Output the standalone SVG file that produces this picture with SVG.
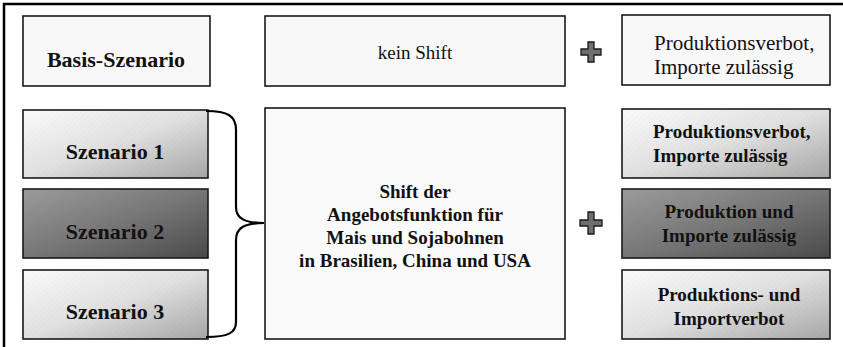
<svg xmlns="http://www.w3.org/2000/svg" width="843" height="347" viewBox="0 0 843 347">
<style>
.box{stroke:#1a1a1a;stroke-width:1.6}
.t{font-family:"Liberation Serif","Times New Roman",serif;fill:#111}
.b{font-weight:bold;font-size:19px}
.n{font-size:21px}
.big{font-weight:bold;font-size:22px}
.conn{fill:none;stroke:#000;stroke-width:2.2}
.plus{fill:#6e6e6e;stroke:#1a1a1a;stroke-width:1.3}
</style>
<defs>
<linearGradient id="light" x1="0" y1="0" x2="1" y2="1">
<stop offset="0" stop-color="#fbfbfb"/>
<stop offset="0.5" stop-color="#e0e0e0"/>
<stop offset="1" stop-color="#a6a6a6"/>
</linearGradient>
<linearGradient id="dark" x1="0" y1="0" x2="1" y2="1">
<stop offset="0" stop-color="#9c9c9c"/>
<stop offset="0.5" stop-color="#777"/>
<stop offset="1" stop-color="#4a4a4a"/>
</linearGradient>
<pattern id="hatch" width="4" height="4" patternUnits="userSpaceOnUse" patternTransform="rotate(45)">
<line x1="0" y1="0" x2="0" y2="4" stroke="#000" stroke-width="1" stroke-opacity="0.035"/>
</pattern>
</defs>
<rect width="843" height="347" fill="#fff"/>
<path d="M4,347 V4 H843" fill="none" stroke="#000" stroke-width="2.5"/>

<g id="basis">
<rect class="box" x="23" y="16" width="187" height="70" fill="#f8f8f8"/>
<text class="t big" x="116" y="67" text-anchor="middle">Basis-Szenario</text>
</g>
<g id="kein-shift">
<rect class="box" x="265" y="16" width="300" height="70" fill="#f8f8f8"/>
<text class="t" style="font-size:19px" x="415" y="59" text-anchor="middle">kein Shift</text>
</g>
<g id="plus-top">
<path class="plus" d="M588,42 h6 v7 h7 v6 h-7 v7 h-6 v-7 h-7 v-6 h7 z"/>
</g>
<g id="basis-right">
<rect class="box" x="622" y="15" width="208" height="70" fill="#f8f8f8"/>
<text class="t n" x="654" y="50">Produktionsverbot,</text>
<text class="t n" x="654" y="74">Importe zulässig</text>
</g>

<g id="szenario1">
<rect class="box" x="23" y="110" width="185" height="68" fill="url(#light)"/>
<rect x="23" y="110" width="185" height="68" fill="url(#hatch)"/>
<text class="t big" x="115" y="159" text-anchor="middle">Szenario 1</text>
</g>
<g id="szenario2">
<rect class="box" x="23" y="189" width="185" height="69" fill="url(#dark)"/>
<rect x="23" y="189" width="185" height="69" fill="url(#hatch)"/>
<text class="t big" x="115" y="239" text-anchor="middle">Szenario 2</text>
</g>
<g id="szenario3">
<rect class="box" x="23" y="270" width="185" height="69" fill="url(#light)"/>
<rect x="23" y="270" width="185" height="69" fill="url(#hatch)"/>
<text class="t big" x="115" y="319" text-anchor="middle">Szenario 3</text>
</g>

<g id="connectors">
<path class="conn" d="M206,111 C228,111 236,116 236,130 L236,207 C236,218 244,223 264,223 C244,223 236,228 236,240 L236,322 C236,333 228,337 206,337"/>
</g>

<g id="shift">
<rect class="box" x="265" y="108" width="300" height="231" fill="#fafafa"/>
<text class="t b" x="415" y="198" text-anchor="middle">Shift der</text>
<text class="t b" x="415" y="221" text-anchor="middle">Angebotsfunktion für</text>
<text class="t b" x="415" y="244" text-anchor="middle">Mais und Sojabohnen</text>
<text class="t b" x="415" y="267" text-anchor="middle">in Brasilien, China und USA</text>
</g>
<g id="plus-mid">
<path class="plus" d="M588,212 h6 v8 h8 v6 h-8 v8 h-6 v-8 h-8 v-6 h8 z"/>
</g>

<g id="right1">
<rect class="box" x="622" y="109" width="208" height="69" fill="url(#light)"/>
<rect x="622" y="109" width="208" height="69" fill="url(#hatch)"/>
<text class="t b" x="653" y="138">Produktionsverbot,</text>
<text class="t b" x="653" y="162">Importe zulässig</text>
</g>
<g id="right2">
<rect class="box" x="622" y="189" width="208" height="69" fill="url(#dark)"/>
<rect x="622" y="189" width="208" height="69" fill="url(#hatch)"/>
<text class="t b" x="729" y="218" text-anchor="middle">Produktion und</text>
<text class="t b" x="729" y="242" text-anchor="middle">Importe zulässig</text>
</g>
<g id="right3">
<rect class="box" x="622" y="270" width="208" height="69" fill="url(#light)"/>
<rect x="622" y="270" width="208" height="69" fill="url(#hatch)"/>
<text class="t b" x="729" y="301" text-anchor="middle">Produktions- und</text>
<text class="t b" x="729" y="325" text-anchor="middle">Importverbot</text>
</g>
</svg>
